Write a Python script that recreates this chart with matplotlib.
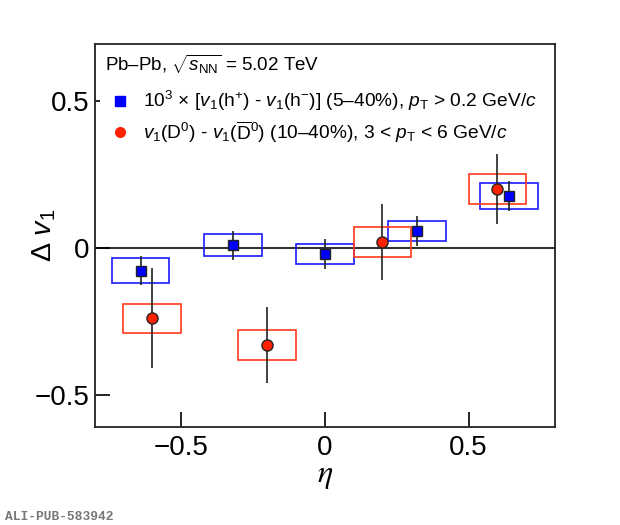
import matplotlib
matplotlib.use("Agg")
import matplotlib.pyplot as plt
from matplotlib.patches import Rectangle

plt.rcParams['font.family'] = ['Liberation Sans', 'DejaVu Sans']
plt.rcParams['mathtext.fontset'] = 'custom'
plt.rcParams['mathtext.rm'] = 'Liberation Sans'
plt.rcParams['mathtext.it'] = 'Liberation Sans:italic'
plt.rcParams['mathtext.bf'] = 'Liberation Sans:bold'

# ---- data ----
eta_h = [-0.64, -0.32, 0.0, 0.32, 0.64]
dv1_h = [-0.077, 0.009, -0.020, 0.058, 0.176]
stat_h = [0.050, 0.049, 0.050, 0.050, 0.050]
syst_h = [0.043, 0.037, 0.035, 0.035, 0.044]

eta_d = [-0.6, -0.2, 0.2, 0.6]
dv1_d = [-0.239, -0.330, 0.020, 0.201]
stat_d = [0.170, 0.130, 0.130, 0.120]
syst_d = [0.050, 0.050, 0.050, 0.050]

box_halfwidth = 0.1

tick_vals = [-0.5, 0, 0.5]
tick_labels = ['−0.5', '0', '0.5']

label_header = r'Pb–Pb, $\sqrt{s_{\mathrm{NN}}}$ = 5.02 TeV'
label_h = r'10$^{3}$ × [$v_{1}$(h$^{+}$) - $v_{1}$(h$^{-}$)] (5–40%), $p_{\mathrm{T}}$ > 0.2 GeV/$c$'
label_d = r'$v_{1}$(D$^{0}$) - $v_{1}$($\overline{\mathrm{D}}^{0}$) (10–40%), 3 < $p_{\mathrm{T}}$ < 6 GeV/$c$'

blue = '#0000ff'
blue_box = '#1a1aff'
red = '#ff2200'
red_box = '#ff3a1a'

fig = plt.figure(figsize=(6.2, 5.25), dpi=100)
ax = fig.add_axes([0.1527, 0.1872, 0.895 - 0.1527, 0.9156 - 0.1872])
ax.set_xlim(-0.8, 0.8)
ax.set_ylim(-0.607, 0.692)

ax.axhline(0, color='#333333', lw=1.5, zorder=1)

# systematic boxes
for x, y, s in zip(eta_h, dv1_h, syst_h):
    ax.add_patch(Rectangle((x - box_halfwidth, y - s), 2 * box_halfwidth, 2 * s,
                           fill=False, edgecolor=blue_box, lw=1.2, zorder=2))
for x, y, s in zip(eta_d, dv1_d, syst_d):
    ax.add_patch(Rectangle((x - box_halfwidth, y - s), 2 * box_halfwidth, 2 * s,
                           fill=False, edgecolor=red_box, lw=1.2, zorder=2))

# statistical errors + markers
ax.errorbar(eta_d, dv1_d, yerr=stat_d, fmt='none', ecolor='#222222', elinewidth=1.2, capsize=0, zorder=3)
ax.errorbar(eta_h, dv1_h, yerr=stat_h, fmt='none', ecolor='#222222', elinewidth=1.2, capsize=0, zorder=3)
ax.plot(eta_d, dv1_d, 'o', color=red, mec='#222222', mew=1.0, ms=8, zorder=4)
ax.plot(eta_h, dv1_h, 's', color=blue, mec='#222222', mew=1.0, ms=7.5, zorder=4)

ax.set_xticks(tick_vals)
ax.set_yticks(tick_vals)
ax.set_xticklabels(tick_labels)
ax.set_yticklabels(tick_labels)
ax.tick_params(direction='in', length=11, width=1.2, labelsize=20)
ax.tick_params(axis='x', pad=6)
ax.tick_params(axis='y', pad=4)
for sp in ax.spines.values():
    sp.set_linewidth(1.3)
    sp.set_color('#222222')

ax.set_xlabel(r'$\eta$', fontsize=23, math_fontfamily='stix', labelpad=0)
ax.set_ylabel(r'$\Delta$ $v_{1}$', fontsize=20.5)
ax.yaxis.set_label_coords(-0.079, 0.5)

# legend area (white background)
ax.add_patch(Rectangle((0.012, 0.745), 0.975, 0.245, transform=ax.transAxes,
                       facecolor='white', edgecolor='none', zorder=5))
ax.text(0.022, 0.9485, label_header, transform=ax.transAxes, fontsize=13.5,
        va='center', ha='left', zorder=6)
ax.plot([0.055], [0.8517], 's', color=blue, mec=blue, ms=6.5, transform=ax.transAxes,
        zorder=6, clip_on=False)
ax.text(0.105, 0.8517, label_h, transform=ax.transAxes, fontsize=13.8,
        va='center', ha='left', zorder=6)
ax.plot([0.055], [0.7706], 'o', color=red, mec=red, ms=7, transform=ax.transAxes,
        zorder=6, clip_on=False)
ax.text(0.105, 0.7706, label_d, transform=ax.transAxes, fontsize=13.8,
        va='center', ha='left', zorder=6)

fig.text(0.008, 1 - 516.5 / 525, 'ALI-PUB-583942', family='Liberation Mono',
         fontsize=9.3, color='#777777', weight='bold', va='center', ha='left')

fig.savefig('out.png', dpi=100)
